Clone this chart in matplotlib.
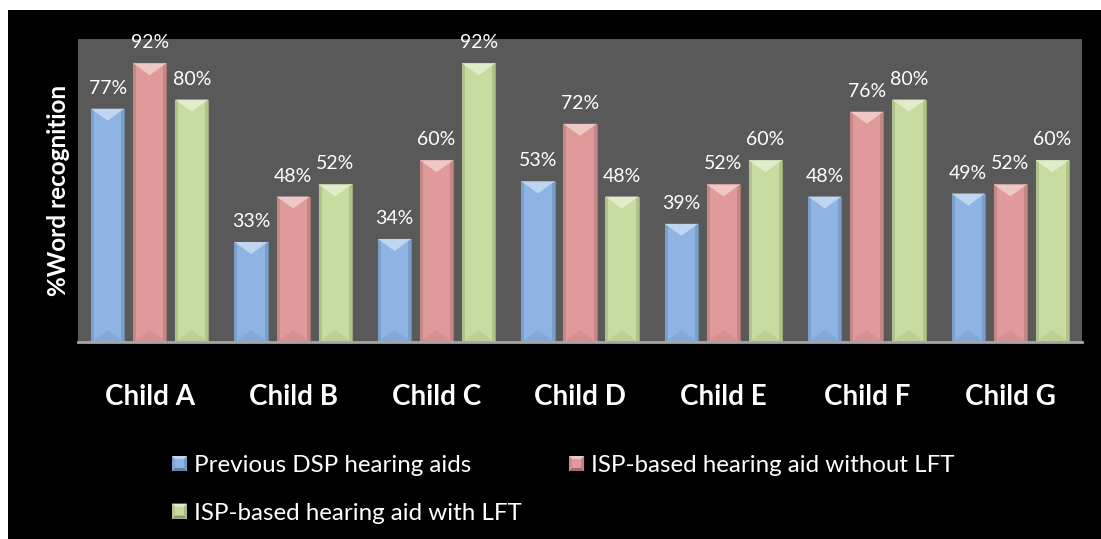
import numpy as np
import matplotlib
matplotlib.use("Agg")
import matplotlib.pyplot as plt
from matplotlib.patches import Polygon, Rectangle
from matplotlib.legend_handler import HandlerBase
from matplotlib.colors import to_rgb

plt.rcParams['font.family'] = ['Lato', 'DejaVu Sans']

categories = ['Child A', 'Child B', 'Child C', 'Child D', 'Child E', 'Child F', 'Child G']
dsp = [77, 33, 34, 53, 39, 48, 49]
isp_no_lft = [92, 48, 60, 72, 52, 76, 52]
isp_lft = [80, 52, 92, 48, 60, 80, 60]

series_names = ['Previous DSP hearing aids',
                'ISP-based hearing aid without LFT',
                'ISP-based hearing aid with LFT']
series_colors = ['#8db4e3', '#e09a9a', '#c9dc9f']


def shade(c, f):
    # f > 0 mixes toward white, f < 0 toward black
    r = np.array(to_rgb(c))
    if f > 0:
        return tuple(r + (1 - r) * f)
    return tuple(r * (1 + f))


W, H = 1101, 539
fig = plt.figure(figsize=(W / 100, H / 100), dpi=100, facecolor='white')
fig.patches.append(Rectangle((8 / W, 0), 1 - 8 / W, 1 - 10 / H, transform=fig.transFigure,
                             facecolor='black', edgecolor='none', zorder=-1))

ax = fig.add_axes([78 / W, 197 / H, 1004 / W, 303 / H])
ax.set_facecolor('#595959')
ax.set_xlim(-0.5, len(categories) - 0.5)
ax.set_ylim(0, 100)

px_x = 1004 / len(categories)   # pixels per category
px_y = 303 / 100                # pixels per percent

x = np.arange(len(categories))
offsets = [-0.293, 0.0, 0.293]
bw = 0.232


def bevel_bar(xc, h, color):
    x0, x1 = xc - bw / 2, xc + bw / 2
    side = 3 / px_x
    depth = 12 / px_y
    ax.add_patch(Rectangle((x0, 0), bw, h, facecolor=color,
                           edgecolor=shade(color, -0.25), linewidth=0.8, zorder=3))
    ax.add_patch(Rectangle((x0, 0), side, h, facecolor=shade(color, -0.12),
                           edgecolor='none', zorder=3))
    ax.add_patch(Rectangle((x1 - side, 0), side, h, facecolor=shade(color, -0.12),
                           edgecolor='none', zorder=3))
    d = min(depth, h / 2)
    ax.add_patch(Polygon([(x0, h), (x1, h), (xc, h - d)], closed=True,
                         facecolor=shade(color, 0.45), edgecolor='none', zorder=4))
    ax.add_patch(Polygon([(x0, 0), (x1, 0), (xc, d)], closed=True,
                         facecolor=shade(color, -0.06), edgecolor='none', zorder=4))


handles = []
for vals, off, col, name in zip([dsp, isp_no_lft, isp_lft], offsets, series_colors, series_names):
    for xi, v in zip(x, vals):
        bevel_bar(xi + off, v, col)
        ax.annotate(f'{v}%', (xi + off, v), xytext=(0, 15), textcoords='offset pixels',
                    ha='center', va='baseline', color='white', fontsize=14, zorder=5,
                    annotation_clip=False)
    handles.append(Rectangle((0, 0), 1, 1, facecolor=col, label=name))


class BevelHandler(HandlerBase):
    def create_artists(self, legend, orig_handle, xdescent, ydescent, width, height,
                       fontsize, trans):
        c = orig_handle.get_facecolor()
        s = min(width, height)
        x0 = -xdescent + (width - s) / 2
        y0 = -ydescent + (height - s) / 2
        x1, y1 = x0 + s, y0 + s
        i = s * 0.2
        parts = [
            Rectangle((x0, y0), s, s, facecolor=c),
            Polygon([(x0, y1), (x1, y1), (x1 - i, y1 - i), (x0 + i, y1 - i)], facecolor=shade(c, 0.45)),
            Polygon([(x0, y0), (x1, y0), (x1 - i, y0 + i), (x0 + i, y0 + i)], facecolor=shade(c, -0.3)),
            Polygon([(x0, y0), (x0, y1), (x0 + i, y1 - i), (x0 + i, y0 + i)], facecolor=shade(c, -0.1)),
            Polygon([(x1, y0), (x1, y1), (x1 - i, y1 - i), (x1 - i, y0 + i)], facecolor=shade(c, -0.15)),
        ]
        for p in parts:
            p.set_edgecolor('none')
            p.set_transform(trans)
        return parts


order = [0, 2, 1]
leg = fig.legend([handles[i] for i in order], [series_names[i] for i in order],
                 handler_map={Rectangle: BevelHandler()},
                 loc='upper left', bbox_to_anchor=(172 / W, 1 - 455 / H), ncol=2,
                 frameon=False, fontsize=17.4, labelcolor='white', borderpad=0,
                 borderaxespad=0, handlelength=0.62, handleheight=0.62,
                 handletextpad=0.3, labelspacing=1.1, columnspacing=1.95)

ax.set_xticks(x)
ax.set_xticklabels(categories, fontsize=20, fontweight='bold', color='white')
ax.tick_params(axis='x', length=0, pad=30)
ax.set_yticks([])
for s in ['top', 'left', 'right']:
    ax.spines[s].set_visible(False)
ax.spines['bottom'].set_color('#a6a6a6')
ax.spines['bottom'].set_linewidth(2)
ax.spines['bottom'].set_zorder(6)

ax.set_ylabel('%Word recognition', fontsize=17.5, fontweight='bold', color='white')
ax.yaxis.set_label_coords(-0.008, 0.5)

fig.savefig('out.png', dpi=100, facecolor=fig.get_facecolor())
